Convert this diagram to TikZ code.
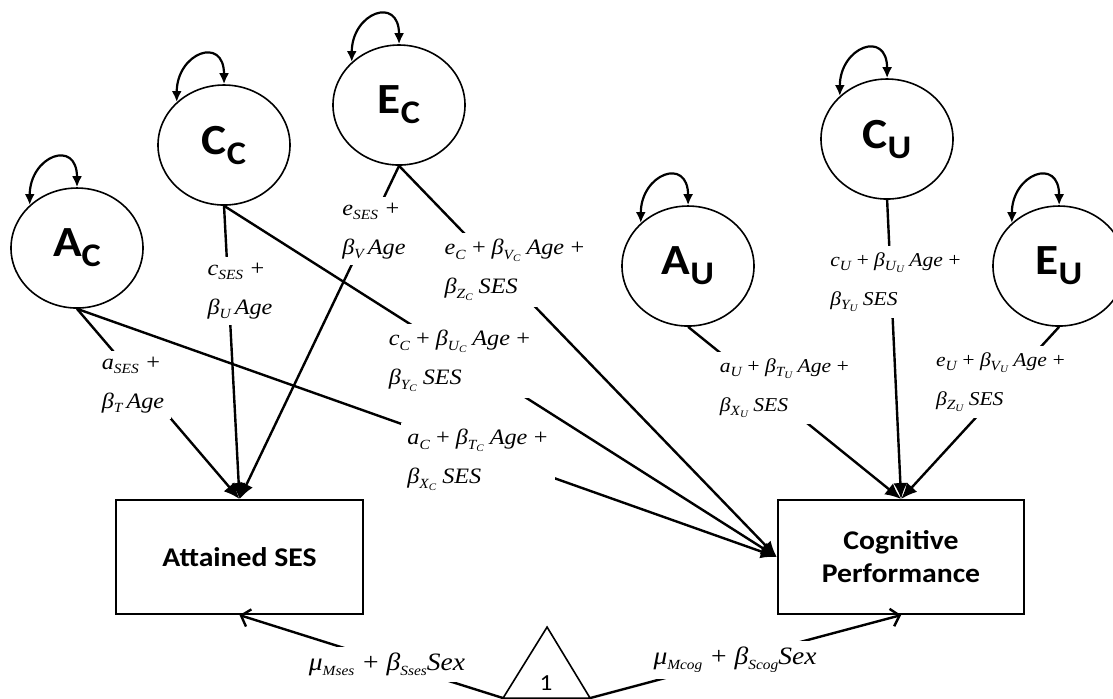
\documentclass[tikz,border=0pt]{standalone}
\usepackage{fontspec}
\setsansfont{Carlito}
\newfontfamily\eqfont{Liberation Serif}
\usepackage{tikz}
\usetikzlibrary{arrows.meta}

\newcommand{\lat}[2]{{\fontsize{21.5}{22}\selectfont #1}\raisebox{-5pt}{\fontsize{16.5}{17}\selectfont #2}}
\newcommand{\sub}[1]{\raisebox{-0.45ex}{\scriptsize #1}}
\newcommand{\ssub}[2]{\raisebox{-0.45ex}{\scriptsize #1\raisebox{-0.35ex}{\tiny #2}}}
\newcommand{\pl}{\hspace{0.2em}+\hspace{0.2em}}

\tikzset{
  latent/.style={circle,draw,line width=0.8pt,minimum size=60pt,inner sep=0pt,font=\sffamily\bfseries},
  observed/.style={rectangle,draw,line width=1pt,minimum width=112pt,minimum height=57pt,align=center,font=\sffamily\bfseries\fontsize{13.5}{16.5}\selectfont},
  reg/.style={-{Latex[length=8pt,width=7pt]},line width=1.2pt},
  mean/.style={-{Straight Barb[length=4pt,width=9pt]},line width=1.2pt},
  var/.style={{Latex[length=5.5pt,width=5pt]}-{Latex[length=5.5pt,width=5pt]},line width=1.1pt},
  coef/.style={fill=white,inner sep=3pt,align=left,font=\eqfont\itshape\fontsize{11}{19.5}\selectfont},
  coefu/.style={coef,font=\eqfont\itshape\fontsize{9.8}{19.5}\selectfont}
}

\begin{document}
\begin{tikzpicture}[x=0.4545pt,y=0.5pt,xscale=1.1,every node/.append style={transform shape}]
\useasboundingbox (0,0) rectangle (1113,-698);

\node[latent] (ac) at (77,-248) {\lat{A}{C}};
\node[latent] (cc) at (224,-145) {\lat{C}{C}};
\node[latent] (ec) at (399,-105) {\lat{E}{C}};
\node[latent] (au) at (688,-266) {\lat{A}{U}};
\node[latent] (cu) at (887,-139) {\lat{C}{U}};
\node[latent] (eu) at (1059,-266) {\lat{E}{U}};

\node[observed] (att) at (239.5,-557) {Attained SES};
\node[observed] (cog) at (901,-557) {Cognitive\\Performance};

\coordinate (mtl) at (503,-698);
\coordinate (mtr) at (590,-698);
\coordinate (mtt) at (547,-627);
\draw[line width=0.8pt] (mtl) -- (mtt) -- (mtr) -- cycle;
\node[font=\sffamily\fontsize{11.5}{12}\selectfont] (one) at (546,-683) {1};

\draw[reg] (ac.south) -- (att.north);
\draw[reg] (cc.south) -- (att.north);
\draw[reg] (ec.south) -- (att.north);
\draw[reg] (ac.south) -- (cog.west);
\draw[reg] (cc.south) -- (cog.west);
\draw[reg] (ec.south) -- (cog.west);
\draw[reg] (au.south) -- (cog.north);
\draw[reg] (cu.south) -- (cog.north);
\draw[reg] (eu.south) -- (cog.north);
\draw[mean] (mtl) -- (att.south);
\draw[mean] (mtr) -- (cog.south);

\node[coef] (las) at (133,-385) {a\sub{SES} +\\β\sub{T}\,Age};
\node[coef] (lcs) at (240,-291) {c\sub{SES} +\\β\sub{U}\,Age};
\node[coef] (les) at (374,-231) {e\sub{SES} +\\β\sub{V}\,Age};
\node[coef] (lec) at (515,-270) {e\sub{C}\pl β\ssub{V}{C} Age\pl\\β\ssub{Z}{C} SES};
\node[coef] (lcc) at (460,-361) {c\sub{C}\pl β\ssub{U}{C} Age\pl\\β\ssub{Y}{C} SES};
\node[coef] (lac) at (478,-460) {a\sub{C}\pl β\ssub{T}{C} Age\pl\\β\ssub{X}{C} SES};
\node[coefu] (lau) at (785,-388) {a\sub{U}\pl β\ssub{T}{U} Age\pl\\β\ssub{X}{U} SES};
\node[coefu] (lcu) at (896,-282) {c\sub{U}\pl β\ssub{U}{U} Age\pl\\β\ssub{Y}{U} SES};
\node[coefu] (leu) at (1001,-382) {e\sub{U}\pl β\ssub{V}{U} Age\pl\\β\ssub{Z}{U} SES};
\node[coef,font=\eqfont\itshape\fontsize{12.5}{15}\selectfont] (lms) at (387,-664) {μ\sub{Mses} + β\sub{Sses}Sex};
\node[coef,font=\eqfont\itshape\fontsize{12.5}{15}\selectfont] (lmc) at (735,-660) {μ\sub{Mcog} + β\sub{Scog}Sex};

\foreach \v in {ac,cc,ec,au,cu,eu}
  \draw[var] (\v.135) to[out=90,in=90,looseness=2.7] (\v.90);
\end{tikzpicture}
\end{document}
